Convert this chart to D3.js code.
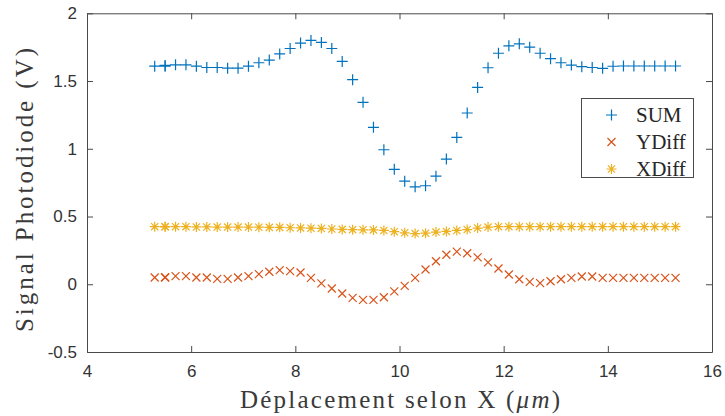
<!DOCTYPE html>
<html><head><meta charset="utf-8">
<script src="https://cdn.jsdelivr.net/npm/d3@7"></script>
<style>body{margin:0;background:#fff;} svg{display:block;}</style>
</head><body><svg id="c" width="725" height="416"></svg>
<script>
const xPos = [5.3,5.5,5.5,5.7,5.9,6.1,6.3,6.5,6.7,6.9,7.1,7.3,7.5,7.7,7.9,8.1,8.3,8.5,8.7,8.9,9.1,9.3,9.5,9.7,9.9,10.1,10.3,10.5,10.7,10.9,11.1,11.3,11.5,11.7,11.9,12.1,12.3,12.5,12.7,12.9,13.1,13.3,13.5,13.7,13.9,14.1,14.3,14.5,14.7,14.9,15.1,15.3];
const sumVals = [1.61,1.61,1.615,1.62,1.62,1.61,1.60,1.60,1.595,1.595,1.61,1.635,1.655,1.70,1.74,1.78,1.80,1.785,1.74,1.645,1.51,1.343,1.158,0.993,0.848,0.761,0.719,0.727,0.798,0.924,1.084,1.264,1.453,1.598,1.705,1.76,1.775,1.75,1.705,1.665,1.635,1.618,1.606,1.60,1.594,1.609,1.611,1.611,1.611,1.611,1.611,1.611];
const yDiffVals = [0.05,0.05,0.052,0.06,0.06,0.05,0.05,0.04,0.04,0.05,0.06,0.075,0.092,0.104,0.097,0.087,0.047,0.006,-0.031,-0.068,-0.100,-0.115,-0.115,-0.096,-0.052,-0.012,0.047,0.109,0.170,0.218,0.241,0.229,0.199,0.162,0.116,0.072,0.037,0.018,0.008,0.022,0.037,0.047,0.057,0.057,0.047,0.047,0.047,0.047,0.047,0.047,0.047,0.047];
const xDiffVals = [0.425,0.425,0.424,0.425,0.425,0.423,0.423,0.422,0.422,0.422,0.422,0.421,0.42,0.42,0.417,0.416,0.414,0.412,0.408,0.405,0.403,0.402,0.401,0.397,0.388,0.38,0.374,0.377,0.385,0.39,0.397,0.404,0.415,0.422,0.425,0.425,0.425,0.425,0.425,0.425,0.425,0.425,0.425,0.425,0.425,0.425,0.425,0.425,0.425,0.425,0.425,0.425];
const seriesNames = ["SUM","YDiff","XDiff"];
const seriesColors = ["#0072BD","#D95319","#EDB120"];
const xTicks = [4,6,8,10,12,14,16];
const yTicks = [-0.5,0,0.5,1,1.5,2];

const svg = d3.select("#c");
const L=87, R=712, T=13.3, B=352;
const x = d3.scaleLinear().domain([4,16]).range([L,R]);
const y = d3.scaleLinear().domain([-0.5,2]).range([B,T]);
const axisColor = "#4a4a4a";
const serif = "'Liberation Serif', 'Times New Roman', serif";

const tk = 6;
const gB = svg.append("g").attr("transform",`translate(0,${B})`)
  .call(d3.axisBottom(x).tickValues(xTicks).tickSizeInner(-tk).tickSizeOuter(0).tickPadding(10).tickFormat(d3.format("d")));
const gT = svg.append("g").attr("transform",`translate(0,${T})`)
  .call(d3.axisTop(x).tickValues(xTicks).tickSizeInner(-tk).tickSizeOuter(0).tickFormat(""));
const gL = svg.append("g").attr("transform",`translate(${L},0)`)
  .call(d3.axisLeft(y).tickValues(yTicks).tickSizeInner(-tk).tickSizeOuter(0).tickPadding(10).tickFormat(d=>String(d)));
const gR = svg.append("g").attr("transform",`translate(${R},0)`)
  .call(d3.axisRight(y).tickValues(yTicks).tickSizeInner(-tk).tickSizeOuter(0).tickFormat(""));
[gB,gT,gL,gR].forEach(g=>{
  g.select(".domain").attr("stroke",axisColor).attr("stroke-width",1);
  g.selectAll(".tick line").attr("stroke",axisColor).attr("stroke-width",1);
  g.selectAll(".tick text").attr("fill","#333").style("font-family","'Liberation Sans', Arial, sans-serif").style("font-size","17px");
});
gB.selectAll(".tick text").attr("dy","0.9em");

function markerPath(type, cx, cy){
  if(type===0){ const s=5.5; return `M${cx-s},${cy}H${cx+s}M${cx},${cy-s}V${cy+s}`; }
  if(type===1){ const s=4; return `M${cx-s},${cy-s}L${cx+s},${cy+s}M${cx-s},${cy+s}L${cx+s},${cy-s}`; }
  const s=5, d=3.6; return `M${cx-s},${cy}H${cx+s}M${cx},${cy-s}V${cy+s}M${cx-d},${cy-d}L${cx+d},${cy+d}M${cx-d},${cy+d}L${cx+d},${cy-d}`;
}
const allVals = [sumVals, yDiffVals, xDiffVals];
allVals.forEach((vals,si)=>{
  svg.append("g").selectAll("path").data(vals).join("path")
    .attr("d",(v,i)=>markerPath(si, x(xPos[i]), y(v)))
    .attr("stroke",seriesColors[si]).attr("stroke-width",1.2).attr("fill","none");
});

const lg = svg.append("g");
lg.append("rect").attr("x",581.5).attr("y",98.5).attr("width",112).attr("height",79)
  .attr("fill","#fff").attr("stroke","#4a4a4a").attr("stroke-width",1);
seriesNames.forEach((n,i)=>{
  const cy = 115 + i*27;
  lg.append("path").attr("d",markerPath(i,611.5,cy)).attr("stroke",seriesColors[i]).attr("stroke-width",1.2).attr("fill","none");
  lg.append("text").attr("x",636).attr("y",cy).attr("dy","0.35em").text(n)
    .attr("fill","#262626").style("font-family",serif).style("font-size","21px");
});

const xl = svg.append("text").attr("x",400).attr("y",408).attr("text-anchor","middle")
  .attr("textLength",320).attr("lengthAdjust","spacing")
  .attr("fill","#3a3a3a").style("font-family",serif).style("font-size","25px");
xl.append("tspan").text("Déplacement selon X (");
xl.append("tspan").style("font-style","italic").text("μm");
xl.append("tspan").text(")");
svg.append("text").attr("transform",`translate(33,190) rotate(-90)`).attr("text-anchor","middle")
  .attr("textLength",284).attr("lengthAdjust","spacing")
  .attr("fill","#3a3a3a").style("font-family",serif).style("font-size","25px")
  .text("Signal Photodiode (V)");
</script></body></html>
